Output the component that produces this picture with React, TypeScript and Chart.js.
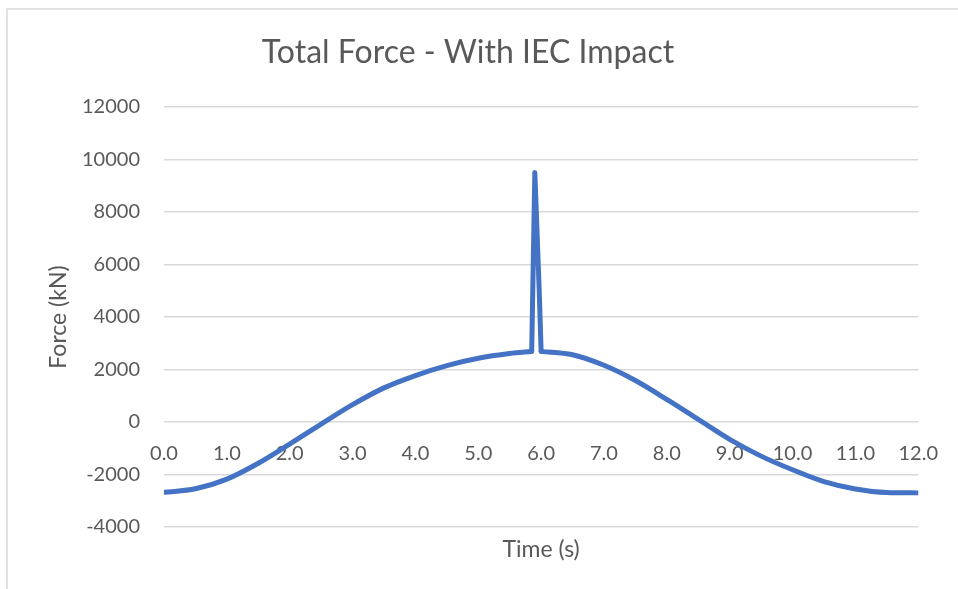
import { useEffect, useRef } from "react";
import { Chart, registerables } from "chart.js";

Chart.register(...registerables);

// Sample times (s) and total force (kN) over one 12 s wave cycle, including the IEC impact spike near 5.9 s
const timeSeconds = [
  0, 0.5, 1, 1.5, 2, 2.5, 3, 3.5, 4, 4.5, 5, 5.5, 5.85, 5.9, 5.97, 6.0,
  6.5, 7, 7.5, 8, 8.5, 9, 9.5, 10, 10.5, 11, 11.5, 12,
];
const totalForceKN = [
  -2680, -2545, -2175, -1570, -840, -80, 660, 1300, 1770, 2150, 2430, 2610, 2690, 9500, 5000, 2690,
  2560, 2160, 1580, 860, 100, -660, -1300, -1820, -2270, -2550, -2685, -2700,
];

// Index range of the impact spike (drawn with straight segments)
const impactStart = 12;
const impactEnd = 15;

const yMin = -4000;
const yMax = 12000;
const yStep = 2000;
const xMin = 0;
const xMax = 12;
const xStep = 1;

const TITLE = "Total Force - With IEC Impact";
const X_TITLE = "Time (s)";
const Y_TITLE = "Force (kN)";

const FONT_FAMILY = "Lato, 'Open Sans', sans-serif";
const TEXT_COLOR = "#595959";
const GRID_COLOR = "#d9d9d9";
const LINE_COLOR = "#4472C4";

// Chart frame and free-floating titles
const chartTextPlugin = {
  id: "chartTexts",
  beforeDraw(chart: Chart) {
    const { ctx, width, height } = chart;
    ctx.save();
    ctx.fillStyle = "#ffffff";
    ctx.fillRect(0, 0, width, height);
    ctx.strokeStyle = GRID_COLOR;
    ctx.lineWidth = 1.5;
    ctx.beginPath();
    ctx.moveTo(7, height + 2);
    ctx.lineTo(7, 9);
    ctx.lineTo(width + 2, 9);
    ctx.stroke();
    ctx.restore();
  },
  afterDraw(chart: Chart) {
    const { ctx, chartArea } = chart;
    ctx.save();
    ctx.fillStyle = TEXT_COLOR;
    ctx.textAlign = "center";
    ctx.textBaseline = "alphabetic";

    ctx.font = `32px ${FONT_FAMILY}`;
    ctx.fillText(TITLE, 468, 63);

    ctx.font = `23px ${FONT_FAMILY}`;
    ctx.fillText(X_TITLE, (chartArea.left + chartArea.right) / 2, 557);

    ctx.translate(66, 317);
    ctx.rotate(-Math.PI / 2);
    ctx.fillText(Y_TITLE, 0, 0);
    ctx.restore();
  },
};

function slicePoints(from: number, to: number) {
  return timeSeconds.slice(from, to + 1).map((t, i) => ({ x: t, y: totalForceKN[from + i] }));
}

export default function App() {
  const canvasRef = useRef<HTMLCanvasElement | null>(null);

  useEffect(() => {
    const canvas = canvasRef.current;
    if (!canvas) return;

    const lineStyle = {
      borderColor: LINE_COLOR,
      backgroundColor: LINE_COLOR,
      borderWidth: 5,
      pointRadius: 0,
      fill: false,
      borderJoinStyle: "round" as const,
      borderCapStyle: "round" as const,
    };

    const chart = new Chart(canvas, {
      type: "line",
      data: {
        datasets: [
          { label: "Total Force", data: slicePoints(0, impactStart), cubicInterpolationMode: "monotone", ...lineStyle },
          { label: "Impact", data: slicePoints(impactStart, impactEnd), tension: 0, ...lineStyle },
          { label: "Total Force ", data: slicePoints(impactEnd, timeSeconds.length - 1), cubicInterpolationMode: "monotone", ...lineStyle },
        ],
      },
      options: {
        responsive: false,
        animation: false,
        layout: { padding: { left: 0, top: 107, right: 38, bottom: 62 } },
        plugins: {
          legend: { display: false },
          tooltip: { enabled: false },
          title: { display: false },
        },
        scales: {
          x: {
            type: "linear",
            position: { y: 0 },
            min: xMin,
            max: xMax,
            grid: { display: false, drawTicks: false },
            border: { display: false },
            ticks: {
              stepSize: xStep,
              autoSkip: false,
              maxRotation: 0,
              padding: 20,
              color: TEXT_COLOR,
              font: { family: FONT_FAMILY, size: 20 },
              callback: (v: number | string) => Number(v).toFixed(1),
            },
            afterFit: (scale: any) => {
              scale.height = 0;
            },
          },
          y: {
            type: "linear",
            position: "left",
            min: yMin,
            max: yMax,
            grid: { color: GRID_COLOR, lineWidth: 1.5, drawTicks: false },
            border: { display: false },
            ticks: {
              stepSize: yStep,
              padding: 24,
              color: TEXT_COLOR,
              font: { family: FONT_FAMILY, size: 20 },
              callback: (v: number | string) => String(v),
            },
            afterFit: (scale: any) => {
              scale.width = 164;
            },
          },
        },
      },
      plugins: [chartTextPlugin],
    });

    return () => chart.destroy();
  }, []);

  return (
    <div style={{ position: "fixed", left: 0, top: 0, width: 958, height: 589, background: "#fff" }}>
      <canvas ref={canvasRef} width={958} height={589} style={{ display: "block" }} />
    </div>
  );
}
